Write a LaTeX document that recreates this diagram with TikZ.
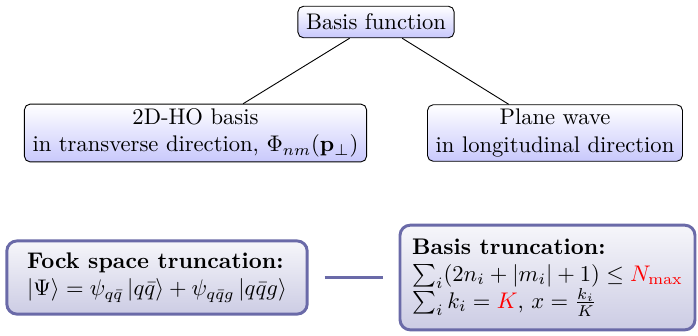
\documentclass[tikz,border=0pt]{standalone}
\usepackage{tikz}
\usetikzlibrary{positioning}
\usepackage{xcolor}
\usepackage{amsmath}
\usepackage{amssymb}
\definecolor{truncframe}{RGB}{106,106,168}
\definecolor{trunctop}{RGB}{246,246,250}
\definecolor{truncbottom}{RGB}{204,204,228}
\definecolor{basisbottom}{RGB}{200,200,252}

\begin{document}
\begin{tikzpicture}[x=0.4425pt, y=-0.4425pt,
    basisbox/.style={draw=black, rounded corners=2.5pt, top color=white,
      bottom color=basisbottom, align=center, inner xsep=3.6pt, inner ysep=2pt},
    truncbox/.style={draw=truncframe, line width=1.3pt, rounded corners=4.5pt,
      top color=trunctop, bottom color=truncbottom, align=left,
      inner xsep=6.5pt, inner ysep=6pt},
    truncline/.style={draw=truncframe, line width=1.1pt,
      shorten <=7pt, shorten >=7pt}]
  \useasboundingbox (0,0) rectangle (698,335);
  % Basis tree
  \node[basisbox, inner ysep=3.4pt] (basis) at (376,22) {Basis function};
  \node[basisbox] (hobasis) at (195.5,133)
    {2D-HO basis\\in transverse direction, $\Phi_{nm}(\mathbf{p}_\perp)$};
  \node[basisbox] (planewave) at (555,133)
    {Plane wave\\in longitudinal direction};
  \draw (basis) -- (hobasis);
  \draw (basis) -- (planewave);
  % Truncations
  \node[truncbox, inner xsep=9pt, inner ysep=5.3pt] (fock) at (157,277.5)
    {\textbf{Fock space truncation:}\\
     $|\Psi\rangle = \psi_{q\bar q}\,|q\bar q\rangle + \psi_{q\bar q g}\,|q\bar q g\rangle$};
  \node[truncbox, inner xsep=5.4pt] (basistrunc) at (547.5,277.5)
    {\textbf{Basis truncation:}\\
     $\sum_i (2n_i+|m_i|+1)\leq \textcolor{red}{N_{\max}}$\\
     $\sum_i k_i=\textcolor{red}{K}$, $x=\frac{k_i}{K}$};
  \draw[truncline] (fock) -- (basistrunc);
\end{tikzpicture}
\end{document}
